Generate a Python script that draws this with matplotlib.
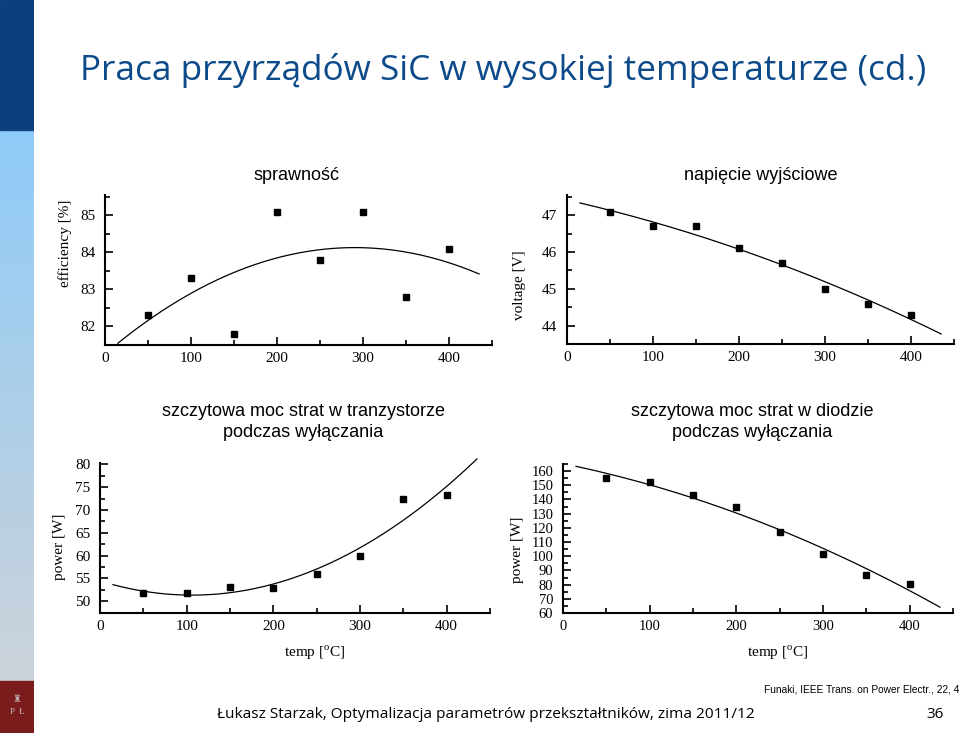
import numpy as np
import matplotlib
matplotlib.use("Agg")
import matplotlib.pyplot as plt
from matplotlib.patches import Rectangle
from matplotlib.ticker import MultipleLocator

# dane (Funaki, IEEE Trans. on Power Electr.)
temps = [50, 100, 150, 200, 250, 300, 350, 400]
efficiency = [82.3, 83.3, 81.8, 85.1, 83.8, 85.1, 82.8, 84.1]
voltage = [47.1, 46.7, 46.7, 46.1, 45.7, 45.0, 44.6, 44.3]
power_transistor = [51.8, 51.7, 53.2, 52.8, 56.0, 59.8, 72.3, 73.2]
power_diode = [155, 152.5, 143.5, 134.5, 117, 101.5, 87, 80.5]
fit_range = [15, 435]

W, H = 960, 733
plt.rcParams['mathtext.fontset'] = 'custom'
plt.rcParams['mathtext.rm'] = 'Liberation Serif'

fig = plt.figure(figsize=(W / 100, H / 100), dpi=100)
fig.patch.set_facecolor('white')

# pasek boczny
side = fig.add_axes([0, 0, 34 / W, 1])
side.set_xlim(0, 1)
side.set_ylim(H, 0)
side.axis('off')
grad = np.linspace(0, 1, 256).reshape(-1, 1)
top_c = np.array([0x8e, 0xcb, 0xf8]) / 255
bot_c = np.array([0xcc, 0xd3, 0xda]) / 255
img = top_c * (1 - grad[..., None]) + bot_c * grad[..., None]
side.imshow(img, extent=[0, 1, 681, 130], aspect='auto')
side.add_patch(Rectangle((0, 0), 1, 130, color='#0b3f7e'))
side.add_patch(Rectangle((0, 681), 1, 52, color='#7b1c1c'))
side.text(0.5, 712, 'P  Ł', color='#c8b8b8', fontsize=6.5, ha='center', va='center',
          family='Liberation Serif')
side.text(0.5, 699, '♜', color='#b8a8a8', fontsize=7, ha='center', va='center',
          family=['DejaVu Sans'])

fig.text(80 / W, 1 - 70 / H, 'Praca przyrządów SiC w wysokiej temperaturze (cd.)',
         color='#0d4a8a', fontsize=25.3, family='Open Sans', va='center', ha='left')


def px_axes(l, t, r, b):
    return fig.add_axes([l / W, 1 - b / H, (r - l) / W, (b - t) / H])


def style(ax, ylim, ymaj, ymin, fs=11):
    ax.set_xlim(0, 450)
    ax.set_ylim(*ylim)
    for s in ['top', 'right']:
        ax.spines[s].set_visible(False)
    for s in ['left', 'bottom']:
        ax.spines[s].set_linewidth(1.5)
    ax.xaxis.set_major_locator(MultipleLocator(100))
    ax.xaxis.set_minor_locator(MultipleLocator(50))
    ax.yaxis.set_major_locator(MultipleLocator(ymaj))
    ax.yaxis.set_minor_locator(MultipleLocator(ymin))
    ax.tick_params(which='both', direction='in', width=1.2)
    ax.tick_params(which='major', length=6, labelsize=fs, pad=5)
    ax.tick_params(which='minor', length=3.5)
    ax.tick_params(axis='y', which='major', pad=7)
    ax.set_xticks([0, 100, 200, 300, 400])


def draw(ax, vals):
    ax.plot(temps, vals, 's', color='black', markersize=4, clip_on=False)
    xs = np.linspace(fit_range[0], fit_range[1], 200)
    coef = np.polyfit(temps, vals, 2)
    ax.plot(xs, np.polyval(coef, xs), color='black', lw=0.9, clip_on=False)


ax1 = px_axes(105, 195, 492, 345)
draw(ax1, efficiency)
style(ax1, (81.5, 85.55), 1, 0.5)
ax1.set_yticks([82, 83, 84, 85])

ax2 = px_axes(567, 195, 954, 344)
draw(ax2, voltage)
style(ax2, (43.5, 47.55), 1, 0.5)
ax2.set_yticks([44, 45, 46, 47])

ax3 = px_axes(100, 463, 490, 613)
draw(ax3, power_transistor)
style(ax3, (47.4, 80.3), 5, 2.5)
ax3.set_yticks([50, 55, 60, 65, 70, 75, 80])

ax4 = px_axes(563, 464, 953, 613)
draw(ax4, power_diode)
style(ax4, (60, 165), 10, 5, fs=10.5)
ax4.set_yticks(list(range(60, 161, 10)))

for ax in [ax1, ax2, ax3, ax4]:
    for lab in ax.get_xticklabels() + ax.get_yticklabels():
        lab.set_family('Liberation Serif')


def ftext(x, y, s, **kw):
    fig.text(x / W, 1 - y / H, s, ha='center', va='center', **kw)


serif = dict(family='Liberation Serif', fontsize=11)
ftext(65, 243, 'efficiency [%]', rotation=90, **serif)
ftext(519, 285, 'voltage [V]', rotation=90, **serif)
ftext(60, 547, 'power [W]', rotation=90, **serif)
ftext(518, 550, 'power [W]', rotation=90, **serif)
ftext(315, 653, r'temp [$^{\mathrm{o}}$C]', **serif)
ftext(778, 653, r'temp [$^{\mathrm{o}}$C]', **serif)

sans = dict(family='Liberation Sans', fontsize=13)
ftext(297, 176, 'sprawność', **sans)
ftext(761, 176, 'napięcie wyjściowe', **sans)
ftext(303, 422, 'szczytowa moc strat w tranzystorze\npodczas wyłączania',
      linespacing=1.3, **sans)
ftext(752, 422, 'szczytowa moc strat w diodzie\npodczas wyłączania',
      linespacing=1.3, **sans)

fig.text(764 / W, 1 - 690 / H, 'Funaki, IEEE Trans. on Power Electr., 22, 4',
         family='Liberation Sans', fontsize=7.3, ha='left', va='center')
ftext(486, 714, 'Łukasz Starzak, Optymalizacja parametrów przekształtników, zima 2011/12',
      family='Open Sans', fontsize=11.1)
ftext(935, 714, '36', family='Open Sans', fontsize=11)

fig.savefig('out.png', dpi=100)
